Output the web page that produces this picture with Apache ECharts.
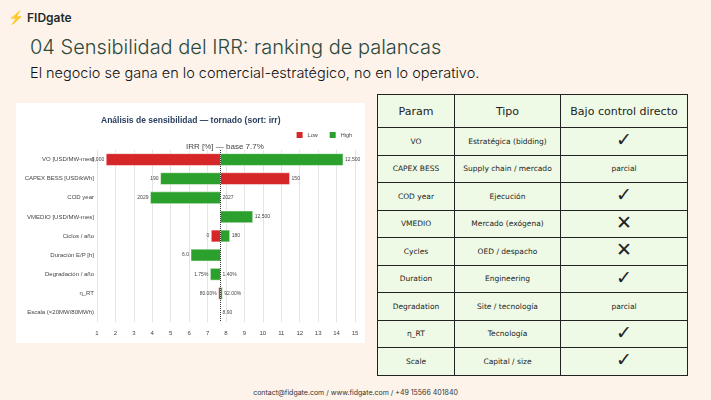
<!DOCTYPE html>
<html>
<head>
<meta charset="utf-8">
<script src="https://cdn.jsdelivr.net/npm/echarts@6/dist/echarts.min.js"></script>
<style>
  body { margin: 0; width: 711px; height: 400px; background: #fdf3ea; position: relative; overflow: hidden; font-family: Inter, "Open Sans", sans-serif; }
  .logo { position: absolute; left: 8px; top: 9px; font-size: 12px; color: #1f2a2a; font-weight: 600; }
  .logo span { color: #7ed957; font-size: 13px; }
  .h1 { position: absolute; left: 30px; top: 35px; font-size: 20px; color: #2c4a3e; font-weight: 300; }
  .h2 { position: absolute; left: 30px; top: 64px; font-size: 14.5px; color: #111; font-weight: 300; }
  #chart { position: absolute; left: 16px; top: 103px; width: 349px; height: 240px; background: #fff; }
  table { position: absolute; left: 377px; top: 94px; width: 311px; border-collapse: collapse; background: #eefae6; font-family: "DejaVu Sans", sans-serif; }
  td, th { border: 1.5px solid #222; text-align: center; font-size: 7.5px; color: #222; height: 26.5px; padding: 0; }
  th { font-size: 11px; font-weight: 500; height: 32px; }
  .mk { font-size: 19px; line-height: 10px; font-weight: 300; }
  .foot { position: absolute; left: 0; width: 711px; top: 388px; text-align: center; font-size: 7px; color: #333; }
</style>
</head>
<body>
<div class="logo"><span>&#x26A1;</span> FIDgate</div>
<div class="h1">04 Sensibilidad del IRR: ranking de palancas</div>
<div class="h2">El negocio se gana en lo comercial-estratégico, no en lo operativo.</div>
<div id="chart"></div>
<table id="tbl"></table>
<div class="foot">contact@fidgate.com / www.fidgate.com / +49 15566 401840</div>
<script>
var params = ['VO [USD/MW-mes]', 'CAPEX BESS [USD/kWh]', 'COD year', 'VMEDIO [USD/MW-mes]', 'Ciclos / año', 'Duración E/P [h]', 'Degradación / año', 'η_RT', 'Escala (×20MW/80MWh)'];
var base = 7.7;
// IRR at the low / high input; equal to base where the bar has zero width
var lowIrr = [1.5, 11.45, 7.7, 7.7, 7.2, 7.7, 7.7, 7.6, 7.7];
var lowText = ['8,000', '150', '2027', '', '0', '', '1.40%', '80.00%', '8.90'];
var highIrr = [14.35, 4.45, 3.9, 9.45, 8.2, 6.1, 7.15, 7.8, 7.7];
var highText = ['12,500', '190', '2029', '12,500', '180', '6.0', '1.75%', '92.00%', ''];

var tblParam = ['VO', 'CAPEX BESS', 'COD year', 'VMEDIO', 'Cycles', 'Duration', 'Degradation', 'η_RT', 'Scale'];
var tblTipo = ['Estratégica (bidding)', 'Supply chain / mercado', 'Ejecución', 'Mercado (exógena)', 'OED / despacho', 'Engineering', 'Site / tecnología', 'Tecnología', 'Capital / size'];
var tblCtrl = ['yes', 'parcial', 'yes', 'no', 'no', 'yes', 'parcial', 'yes', 'yes'];

var html = '<tr><th style="width:76px">Param</th><th style="width:105px">Tipo</th><th>Bajo control directo</th></tr>';
for (var i = 0; i < tblParam.length; i++) {
  var c = tblCtrl[i] === 'yes' ? '<span class="mk">&#x2713;</span>' :
    tblCtrl[i] === 'no' ? '<span class="mk">&#x2715;</span>' : 'parcial';
  html += '<tr><td>' + tblParam[i] + '</td><td>' + tblTipo[i] + '</td><td>' + c + '</td></tr>';
}
document.getElementById('tbl').innerHTML = html;

function makeRender(texts) {
  return function (p, api) {
    var cat = api.value(0), v = api.value(1);
    var a = api.coord([base, cat]), b = api.coord([v, cat]);
    var h = api.size([0, 1])[1] * 0.62;
    var x0 = Math.min(a[0], b[0]), x1 = Math.max(a[0], b[0]);
    var right = v >= base;
    var t = texts[p.dataIndex];
    var children = [{
      type: 'rect',
      shape: { x: x0, y: a[1] - h / 2, width: x1 - x0, height: h },
      style: { fill: api.visual('color'), stroke: '#fff', lineWidth: 0.5 }
    }];
    if (t) {
      children.push({
        type: 'text',
        style: { text: t, x: right ? x1 + 2 : x0 - 2, y: a[1], align: right ? 'left' : 'right', verticalAlign: 'middle', fontSize: 5, fill: '#444' }
      });
    }
    return { type: 'group', children: children };
  };
}

var chart = echarts.init(document.getElementById('chart'));
chart.setOption({
  animation: false,
  textStyle: { fontFamily: 'Liberation Sans, Arial, sans-serif' },
  title: [
    { text: 'Análisis de sensibilidad — tornado (sort: irr)', left: 80, top: 8, textStyle: { fontSize: 8.5, fontWeight: 'bold', color: '#2a3f5f' } },
    { text: 'IRR [%] — base 7.7%', left: 165, top: 35, textStyle: { fontSize: 8, fontWeight: 'normal', color: '#444' } }
  ],
  legend: { right: 8, top: 24, itemWidth: 6, itemHeight: 6, itemGap: 12, textStyle: { fontSize: 5.5, color: '#444' },
    data: [{ name: 'Low', icon: 'rect' }, { name: 'High', icon: 'rect' }] },
  grid: { left: 81, right: 10, top: 47, bottom: 21 },
  xAxis: { type: 'value', min: 1, max: 15, interval: 1,
    axisLine: { show: false }, axisTick: { show: false },
    axisLabel: { fontSize: 6, color: '#444' },
    splitLine: { lineStyle: { color: '#e4e4e4' } } },
  yAxis: { type: 'category', data: params, inverse: true,
    axisLine: { show: false }, axisTick: { show: false },
    axisLabel: { fontSize: 6, color: '#444', margin: 3 } },
  series: [
    { name: 'Low', type: 'custom', color: '#d62728', renderItem: makeRender(lowText),
      data: lowIrr.map(function (v, i) { return [i, v]; }), encode: { x: 1, y: 0 },
      markLine: { silent: true, symbol: 'none', label: { show: false }, lineStyle: { color: '#333', type: 'dotted', width: 1 }, data: [{ xAxis: base }] } },
    { name: 'High', type: 'custom', color: '#2ca02c', renderItem: makeRender(highText),
      data: highIrr.map(function (v, i) { return [i, v]; }), encode: { x: 1, y: 0 } }
  ]
});
</script>
</body>
</html>
